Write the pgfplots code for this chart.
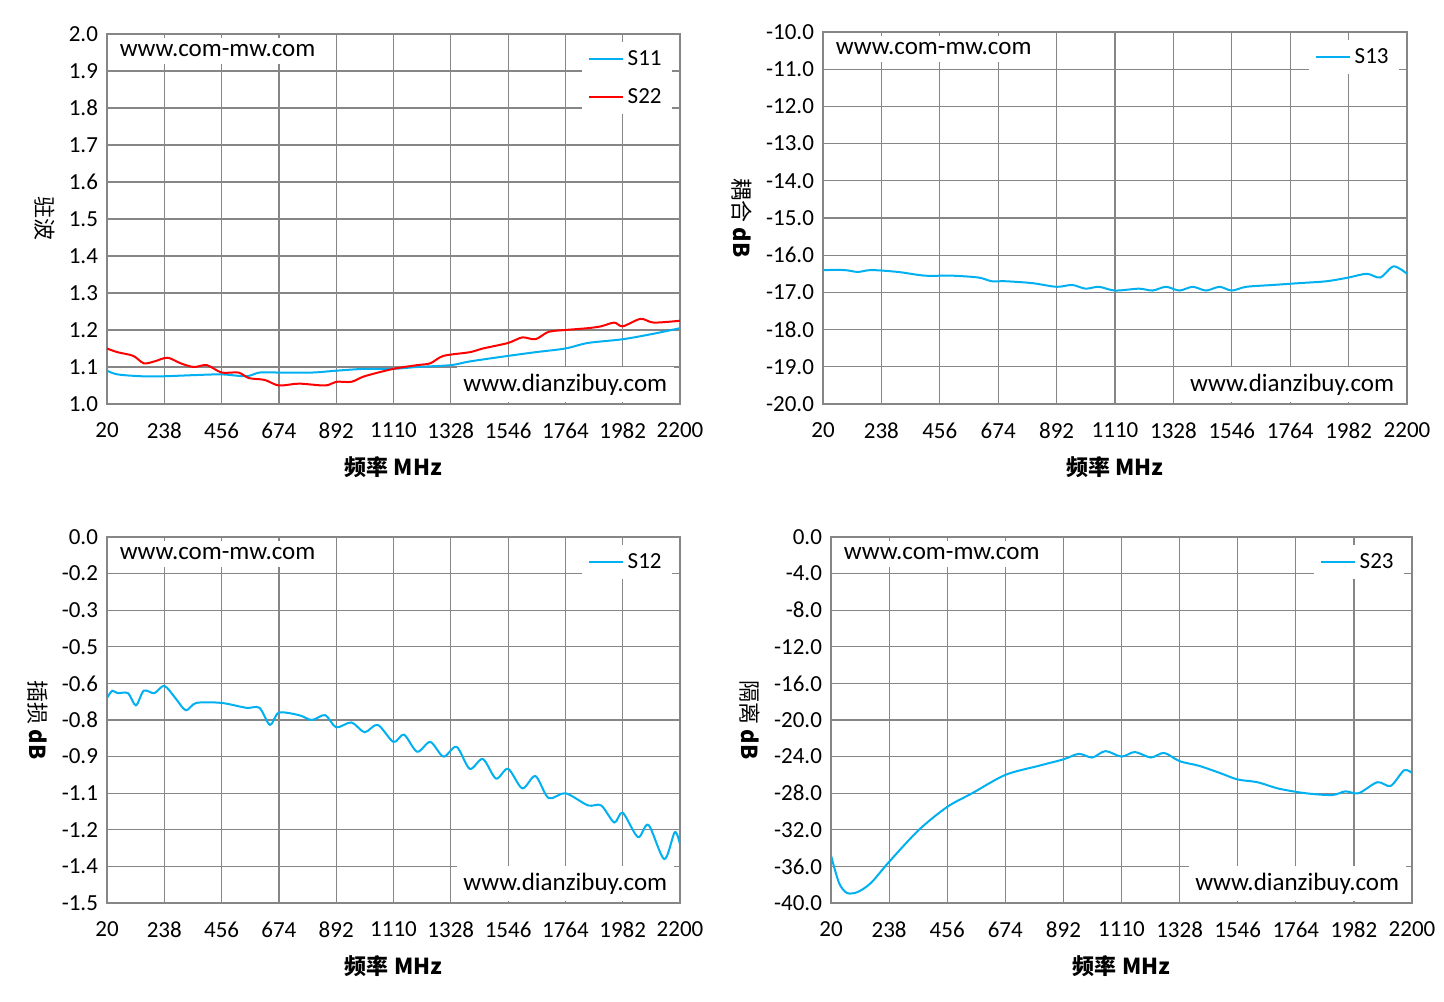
\documentclass[border=0pt]{standalone}
\usepackage{pgfplots}
\pgfplotsset{compat=1.18}
\usepackage{fontspec}
\setmainfont{Carlito}
\newfontfamily\cjk{Noto Sans CJK SC}
\definecolor{cb}{RGB}{0,176,240}
\definecolor{gr}{RGB}{134,134,134}
\pgfplotsset{
  myax/.style={scale only axis, anchor=south west, xmin=20, xmax=2200,
    xtick={20,238,456,674,892,1110,1328,1546,1764,1982,2200},
    xticklabel style={/pgf/number format/1000 sep={}, yshift=-6pt},
    yticklabel style={xshift=-1pt},
    grid=major, major grid style={gr, line width=0.6pt}, axis line style={gr, line width=0.6pt},
    tick style={draw=none}, ticklabel style={font=\fontsize{11.5}{13}\selectfont},
    /pgf/number format/assume math mode=true,
    xlabel={\cjk\bfseries 频率 \textbf{MHz}}, xlabel style={font=\fontsize{11}{13}\selectfont, yshift=-2pt},
    ylabel style={rotate=180, font=\fontsize{11}{13}\selectfont},
    legend style={draw=none, fill=white, font=\fontsize{11.5}{13}\selectfont, at={(1,1)}, anchor=north east, xshift=-4pt, yshift=-4pt, row sep=6pt},
    legend cell align=left, every axis plot/.append style={line width=1pt, no markers, smooth}
  }
}
\newcommand\wm{\node[anchor=north west, fill=white, font=\fontsize{12.5}{14}\selectfont] at (rel axis cs:0.01,0.99) {www.com-mw.com};
\node[anchor=south east, fill=white, font=\fontsize{12.5}{14}\selectfont] at (rel axis cs:0.99,0.005) {www.dianzibuy.com};}
\begin{document}
\begin{tikzpicture}
\path[use as bounding box] (0pt,0pt) rectangle (722pt,500.5pt);
% top-left
\begin{axis}[myax, at={(53.5pt,298.5pt)}, width=286.5pt, height=185pt, ymin=1.0, ymax=2.0, ytick distance=0.1,
  yticklabel style={/pgf/number format/.cd, fixed, fixed zerofill, precision=1}, ylabel={\cjk 驻波}]
\addplot[cb] coordinates {(20,1.09)(60,1.08)(150,1.075)(238,1.075)(350,1.078)(456,1.08)(550,1.075)(600,1.085)(674,1.085)(800,1.085)(892,1.09)(1000,1.095)(1110,1.095)(1200,1.1)(1328,1.105)(1400,1.115)(1546,1.13)(1650,1.14)(1764,1.15)(1850,1.165)(1982,1.175)(2100,1.19)(2200,1.205)};
\addplot[red] coordinates {(20,1.15)(60,1.14)(120,1.13)(160,1.11)(200,1.115)(250,1.125)(300,1.11)(350,1.10)(400,1.105)(456,1.085)(520,1.085)(560,1.07)(620,1.065)(674,1.05)(750,1.055)(850,1.05)(892,1.06)(950,1.06)(1000,1.075)(1110,1.095)(1200,1.105)(1250,1.11)(1300,1.13)(1400,1.14)(1450,1.15)(1546,1.165)(1600,1.18)(1650,1.175)(1700,1.195)(1764,1.20)(1850,1.205)(1900,1.21)(1950,1.22)(1982,1.21)(2050,1.23)(2100,1.22)(2200,1.225)};
\legend{S11,S22}
\wm
\end{axis}
% top-right
\begin{axis}[myax, at={(411.5pt,298.5pt)}, width=292pt, height=186pt, ymin=-20, ymax=-10, ytick distance=1,
  yticklabel style={/pgf/number format/.cd, fixed, fixed zerofill, precision=1}, ylabel={\cjk 耦合 \textbf{dB}}]
\addplot[cb] coordinates {(20,-16.4)(100,-16.4)(150,-16.45)(200,-16.4)(300,-16.45)(400,-16.55)(500,-16.55)(600,-16.6)(650,-16.7)(700,-16.7)(800,-16.75)(892,-16.85)(950,-16.8)(1000,-16.9)(1050,-16.85)(1110,-16.95)(1200,-16.9)(1250,-16.95)(1300,-16.85)(1350,-16.95)(1400,-16.85)(1450,-16.95)(1500,-16.85)(1546,-16.95)(1600,-16.85)(1700,-16.8)(1800,-16.75)(1900,-16.7)(1982,-16.6)(2050,-16.5)(2100,-16.6)(2150,-16.3)(2200,-16.5)};
\legend{S13}
\wm
\end{axis}
% bottom-left
\begin{axis}[myax, at={(53.5pt,49pt)}, width=286.5pt, height=183pt, ymin=-1.5, ymax=0,
  ytick={0,-0.15,-0.3,-0.45,-0.6,-0.75,-0.9,-1.05,-1.2,-1.35,-1.5},
  yticklabels={0.0,-0.2,-0.3,-0.5,-0.6,-0.8,-0.9,-1.1,-1.2,-1.4,-1.5}, ylabel={\cjk 插损 \textbf{dB}}]
\addplot[cb] coordinates {(20,-0.66)(40,-0.63)(60,-0.64)(100,-0.64)(130,-0.69)(160,-0.63)(200,-0.64)(238,-0.61)(280,-0.66)(320,-0.71)(360,-0.68)(456,-0.68)(550,-0.70)(600,-0.70)(640,-0.77)(674,-0.72)(750,-0.73)(800,-0.75)(850,-0.73)(892,-0.78)(950,-0.76)(1000,-0.80)(1050,-0.77)(1110,-0.84)(1150,-0.81)(1200,-0.88)(1250,-0.84)(1300,-0.90)(1350,-0.86)(1400,-0.95)(1450,-0.91)(1500,-0.99)(1546,-0.95)(1600,-1.03)(1650,-0.98)(1700,-1.07)(1764,-1.05)(1850,-1.10)(1900,-1.10)(1950,-1.17)(1982,-1.13)(2040,-1.23)(2080,-1.18)(2140,-1.32)(2180,-1.21)(2200,-1.26)};
\legend{S12}
\wm
\end{axis}
% bottom-right
\begin{axis}[myax, at={(415.5pt,49pt)}, width=290.5pt, height=183pt, ymin=-40, ymax=0, ytick distance=4,
  yticklabel style={/pgf/number format/.cd, fixed, fixed zerofill, precision=1}, ylabel={\cjk 隔离 \textbf{dB}}]
\addplot[cb] coordinates {(20,-34.8)(50,-37.8)(80,-38.9)(120,-38.8)(170,-37.8)(238,-35.5)(350,-32)(456,-29.5)(550,-28)(674,-26)(800,-25)(892,-24.3)(950,-23.7)(1000,-24.1)(1050,-23.4)(1110,-24)(1160,-23.5)(1220,-24.1)(1270,-23.6)(1328,-24.5)(1400,-25)(1480,-25.8)(1546,-26.5)(1620,-26.8)(1700,-27.5)(1800,-28)(1900,-28.2)(1950,-27.8)(2000,-28)(2070,-26.8)(2120,-27.2)(2170,-25.5)(2200,-25.8)};
\legend{S23}
\wm
\end{axis}
\end{tikzpicture}
\end{document}
